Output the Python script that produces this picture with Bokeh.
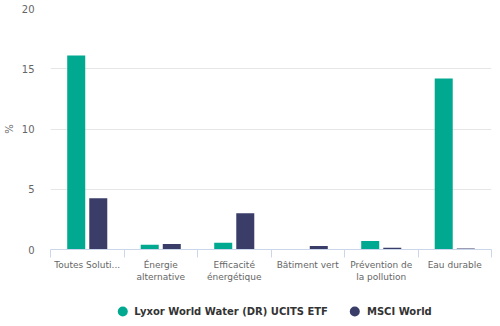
from bokeh.plotting import figure
from bokeh.layouts import column
from bokeh.models import ColumnDataSource, FixedTicker, Legend, LegendItem, Range1d
from bokeh.embed import file_html
from bokeh.resources import INLINE

categories = ["Toutes Soluti...", "Énergie\nalternative", "Efficacité\nénergétique",
              "Bâtiment vert", "Prévention de\nla pollution", "Eau durable"]
fund_name = "Lyxor World Water (DR) UCITS ETF"
index_name = "MSCI World"
fund_values = [16.1, 0.4, 0.55, 0.0, 0.7, 14.2]
index_values = [4.25, 0.45, 3.0, 0.3, 0.15, 0.08]
y_ticks = [0, 5, 10, 15, 20]

TEAL = "#00a98f"
NAVY = "#3a3d68"
FONT = "DejaVu Sans"

centers = [i + 0.5 for i in range(len(categories))]
src = ColumnDataSource(dict(
    xf=[c - 0.15 for c in centers], xi=[c + 0.15 for c in centers],
    f=fund_values, i=index_values))

p = figure(width=500, height=296, output_backend="svg", toolbar_location=None,
           x_range=Range1d(0, len(categories)), y_range=Range1d(0, 20))
p.min_border_left = 0
p.min_border_right = 9
p.min_border_top = 8
p.min_border_bottom = 47
p.outline_line_color = None

p.vbar(x="xf", top="f", width=0.245, source=src, color=TEAL, line_color=None)
p.vbar(x="xi", top="i", width=0.245, source=src, color=NAVY, line_color=None)

p.xgrid.grid_line_color = None
p.ygrid.grid_line_color = "#e6e6e6"
p.ygrid.ticker = FixedTicker(ticks=y_ticks)

p.yaxis.ticker = FixedTicker(ticks=y_ticks)
p.yaxis.axis_line_color = None
p.yaxis.major_tick_line_color = None
p.yaxis.minor_tick_line_color = None
p.yaxis.axis_label = "%"
p.yaxis.axis_label_text_font = FONT
p.yaxis.axis_label_text_font_style = "normal"
p.yaxis.axis_label_text_font_size = "10px"
p.yaxis.axis_label_text_color = "#666666"
p.yaxis.axis_label_standoff = 4
p.yaxis.major_label_text_font = FONT
p.yaxis.major_label_text_font_size = "10px"
p.yaxis.major_label_text_color = "#666666"
p.yaxis.major_label_standoff = 10

p.xaxis.ticker = FixedTicker(ticks=centers, minor_ticks=list(range(len(categories) + 1)))
p.xaxis.major_label_overrides = {c: lab for c, lab in zip(centers, categories)}
p.xaxis.axis_line_color = "#ccd6eb"
p.xaxis.major_tick_line_color = None
p.xaxis.major_tick_out = 0
p.xaxis.major_tick_in = 0
p.xaxis.minor_tick_line_color = "#ccd6eb"
p.xaxis.minor_tick_out = 8
p.xaxis.minor_tick_in = 0
p.xaxis.major_label_text_font = FONT
p.xaxis.major_label_text_font_size = "9px"
p.xaxis.major_label_text_color = "#666666"
p.xaxis.major_label_standoff = 2

# legend strip
lg = figure(width=500, height=30, output_backend="svg", toolbar_location=None,
            x_range=p.x_range, y_range=p.y_range)
lg.axis.visible = False
lg.grid.visible = False
lg.outline_line_color = None
lg.min_border = 0
d1 = lg.scatter(x="xf", y="f", source=src, marker="circle", size=0, fill_color=TEAL, line_color=None)
d2 = lg.scatter(x="xi", y="i", source=src, marker="circle", size=0, fill_color=NAVY, line_color=None)
legend = Legend(items=[LegendItem(label=fund_name, renderers=[d1]),
                       LegendItem(label=index_name, renderers=[d2])],
                orientation="horizontal", location="center")
legend.label_text_font = FONT
legend.label_text_font_style = "bold"
legend.label_text_font_size = "10px"
legend.label_text_color = "#333333"
legend.border_line_color = None
legend.background_fill_alpha = 0
legend.glyph_width = 25
legend.glyph_height = 25
legend.label_height = 12
legend.spacing = 14
legend.label_standoff = 0
legend.margin = 0
legend.padding = 0
lg.add_layout(legend, "center")

open("out.html", "w").write(file_html(column(p, lg, spacing=0), INLINE))
